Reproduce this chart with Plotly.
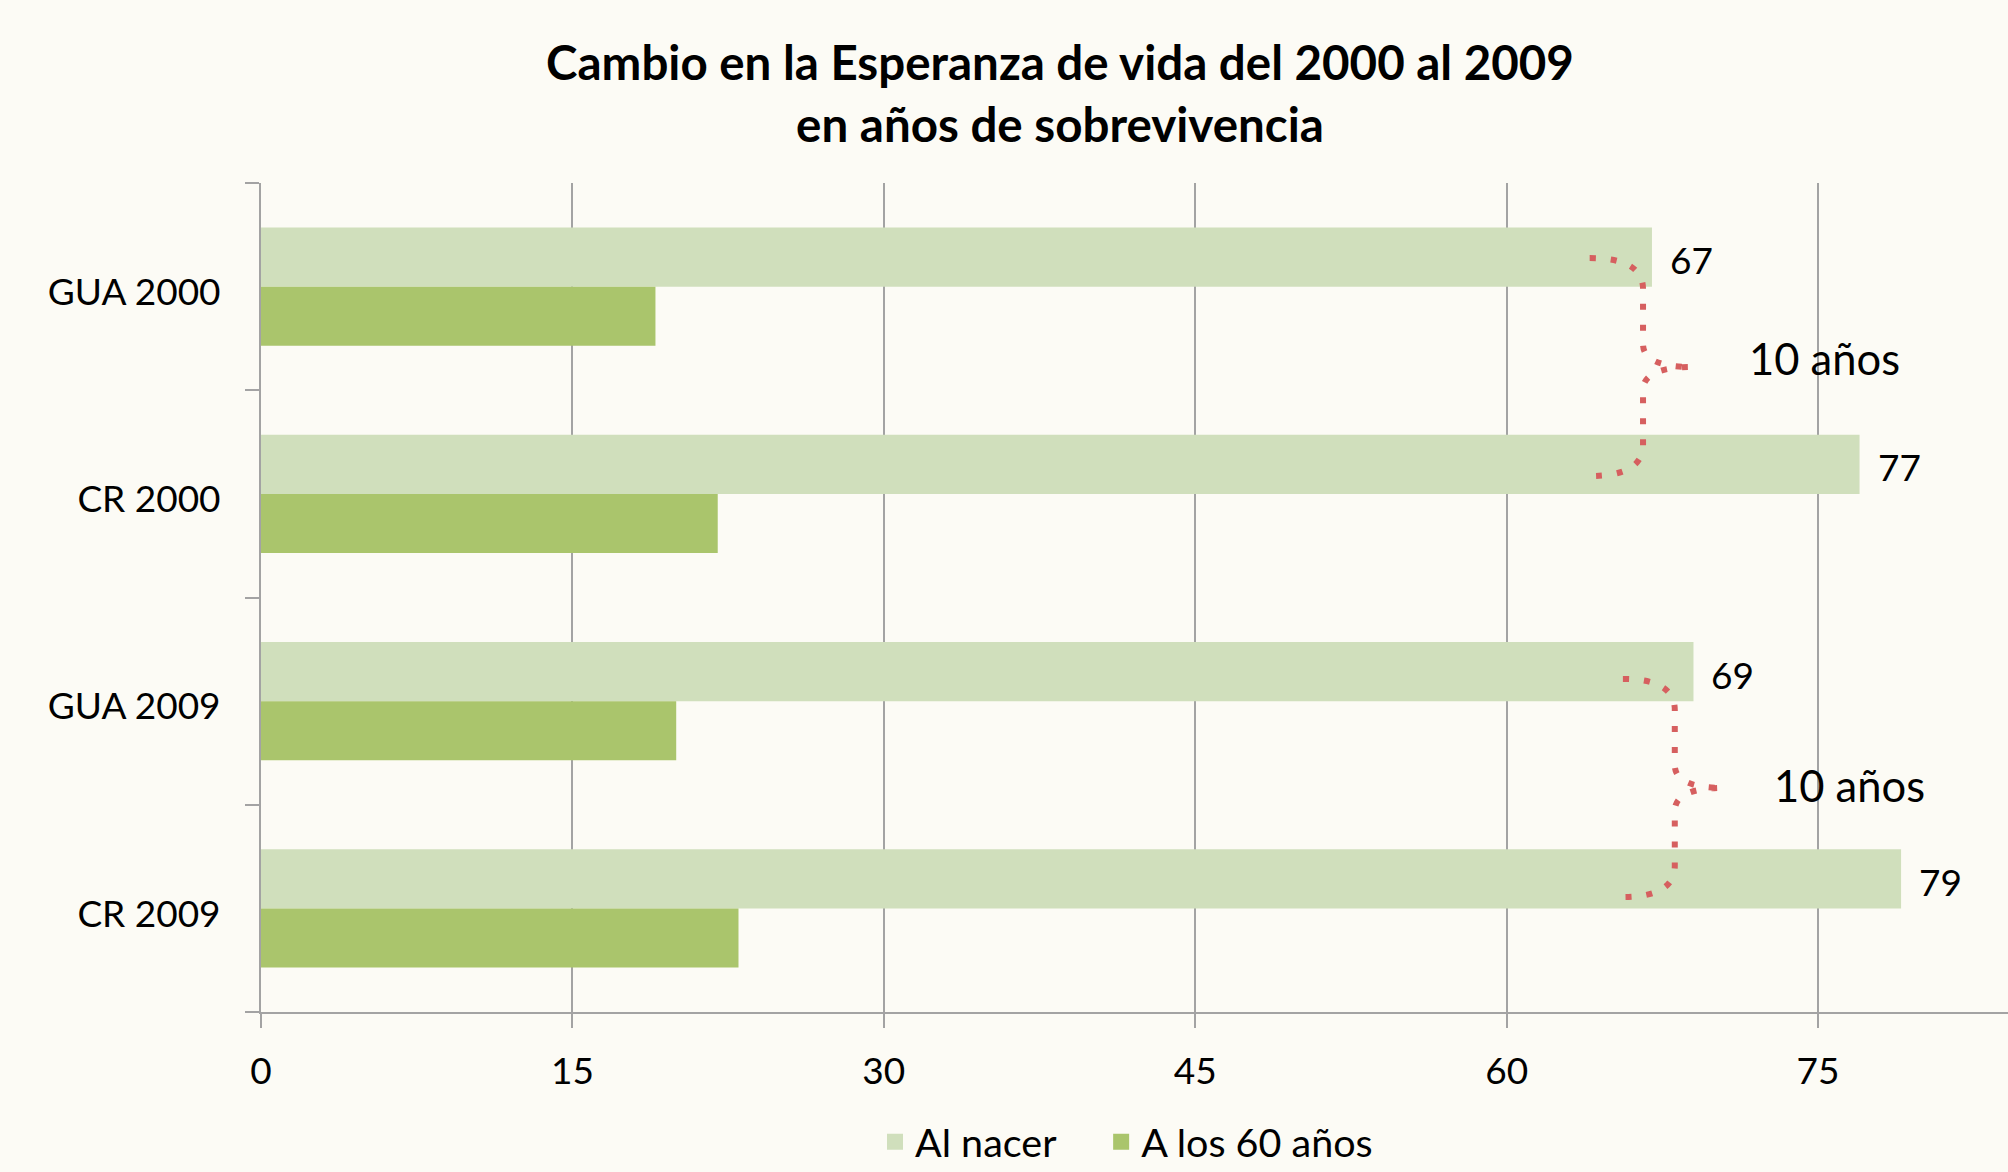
import plotly.graph_objects as go

# ---- data ----
categories = ["GUA 2000", "CR 2000", "GUA 2009", "CR 2009"]
al_nacer = [67, 77, 69, 79]
a_los_60 = [19, 22, 20, 23]
series_names = ["Al nacer", "A los 60 años"]
x_ticks = [0, 15, 30, 45, 60, 75]
title_lines = ["Cambio en la Esperanza de vida del 2000 al 2009", "en años de sobrevivencia"]

# pairs compared by the braces: (GUA index, CR index)
brace_pairs = [(0, 1), (2, 3)]

# ---- style ----
LIGHT = "#D0DFBC"
DARK = "#AAC56C"
RED = "#D65F5F"
GRID = "#A3A3A3"
BG = "#FCFBF5"
FONT = "Lato, 'Open Sans', sans-serif"
BARGAP = 0.43
half = (1 - BARGAP) / 4  # offset of each bar centre from category centre
LEGEND_PAD = "\u00a0" * 4  # extra room after first legend entry

# brace geometry offsets (x relative to the upper bar value, y relative to category index)
BRACE_GEOM = [
    dict(x0=-3.0, xv=-0.43, xt=1.95, ys=-0.138, ye=-0.086, yt=0.388, tx=2.65, ty=0.344),
    dict(x0=-3.4, xv=-0.90, xt=1.45, ys=-0.107, ye=-0.055, yt=0.419, tx=2.35, ty=0.405),
]

ypos = list(range(len(categories)))

fig = go.Figure()
fig.add_trace(go.Bar(y=ypos, x=al_nacer, orientation="h", name=series_names[0],
                     marker=dict(color=LIGHT, line=dict(width=0)), showlegend=False))
fig.add_trace(go.Bar(y=ypos, x=a_los_60, orientation="h", name=series_names[1],
                     marker=dict(color=DARK, line=dict(width=0)), showlegend=False))
# legend entries (larger square symbols)
for k, (nm, col) in enumerate(zip(series_names, [LIGHT, DARK])):
    label = nm + (LEGEND_PAD if k == 0 else "")
    fig.add_trace(go.Scatter(x=[None], y=[None], mode="markers", name=label,
                             marker=dict(symbol="square", size=16, color=col)))

# data labels for "Al nacer"
for i, v in enumerate(al_nacer):
    fig.add_annotation(x=v, y=i - half + 0.012, text=str(v), showarrow=False,
                       xanchor="left", yanchor="middle", xshift=16,
                       font=dict(family=FONT, size=37, color="black"))

# braces between GUA and CR "Al nacer" bars
for (gi, ci), g in zip(brace_pairs, BRACE_GEOM):
    v = al_nacer[gi]
    x0 = v + g["x0"]
    xv = v + g["xv"]
    xt = v + g["xt"]
    ys = gi + g["ys"]
    ye = ci + g["ye"]
    yt = gi + g["yt"]
    path = (f"M {x0},{ys} Q {xv},{ys} {xv},{ys + 0.15} "
            f"L {xv},{yt - 0.11} Q {xv},{yt} {xt},{yt} "
            f"Q {xv},{yt} {xv},{yt + 0.11} "
            f"L {xv},{ye - 0.15} Q {xv},{ye} {x0},{ye}")
    fig.add_shape(type="path", path=path, xref="x", yref="y",
                  line=dict(color=RED, width=6, dash="6px,15px"))
    diff = al_nacer[ci] - al_nacer[gi]
    fig.add_annotation(x=v + g["xt"] + g["tx"], y=gi + g["ty"], text=f"{diff} años",
                       showarrow=False, xanchor="left", yanchor="middle",
                       font=dict(family=FONT, size=43.5, color="black"))

fig.update_layout(
    width=2008, height=1172,
    margin=dict(l=261, r=0, t=183, b=160),
    paper_bgcolor=BG, plot_bgcolor=BG,
    barmode="group", bargap=BARGAP, bargroupgap=0,
    font=dict(family=FONT, size=37, color="black"),
    title=dict(text="<b>" + "<br>".join(title_lines) + "</b>",
               x=1060 / 2008, xanchor="center", xref="container",
               y=1 - 80 / 1172, yanchor="middle", yref="container",
               font=dict(family=FONT, size=47.5, color="black")),
    legend=dict(orientation="h", xref="container", yref="container",
                x=875 / 2008, xanchor="left", y=1 - 1142 / 1172, yanchor="middle",
                font=dict(family=FONT, size=39.5, color="black"),
                itemsizing="trace", bgcolor="rgba(0,0,0,0)"),
    xaxis=dict(range=[0, 84.15], tickvals=x_ticks, showgrid=True, gridcolor=GRID,
               gridwidth=2, zeroline=False, showline=True, linecolor=GRID, linewidth=2,
               ticks="outside", ticklen=14, tickwidth=2, tickcolor=GRID,
               tickfont=dict(family=FONT, size=37), ticklabelstandoff=12),
    yaxis=dict(range=[len(categories) - 0.5, -0.5],
               tickvals=[i + 0.025 for i in ypos], ticktext=categories,
               showgrid=False, zeroline=False, showline=True, linecolor=GRID, linewidth=2,
               ticks="", tickfont=dict(family=FONT, size=37), ticklabelstandoff=31,
               minor=dict(tickvals=[i - 0.5 for i in range(len(categories) + 1)],
                          ticks="outside", ticklen=14, tickwidth=2, tickcolor=GRID,
                          showgrid=False)),
)

fig.write_html("out.html", config={"displayModeBar": False},
               post_script="document.body.style.margin='0';document.body.style.overflow='hidden';")
